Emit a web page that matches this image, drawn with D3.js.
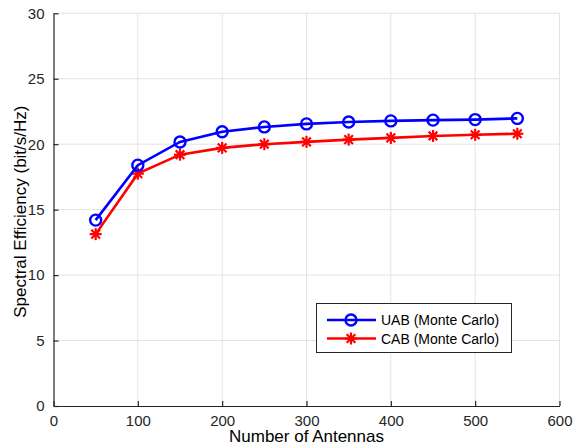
<!DOCTYPE html>
<html><head><meta charset="utf-8">
<script src="https://cdn.jsdelivr.net/npm/d3@7"></script>
<style>body{margin:0;background:#fff}svg{display:block;font-family:Arial,"Liberation Sans",sans-serif}</style>
</head><body><svg id="c" width="577" height="445"></svg>
<script>
const antennas = [50,100,150,200,250,300,350,400,450,500,550];
const uab = [14.2,18.4,20.17,20.95,21.32,21.55,21.7,21.78,21.84,21.88,21.97];
const cab = [13.13,17.75,19.2,19.72,20.0,20.18,20.35,20.48,20.63,20.72,20.8];
const xTicks = [0,100,200,300,400,500,600];
const yTicks = [0,5,10,15,20,25,30];
const seriesNames = ["UAB (Monte Carlo)","CAB (Monte Carlo)"];

const svg = d3.select("#c");
const L=53.5, R=559.5, T=13.3, B=406;
const x = d3.scaleLinear().domain([0,600]).range([L,R]);
const y = d3.scaleLinear().domain([0,30]).range([B,T]);
const txt="#262626";

// grid
svg.append("g").selectAll("line").data(xTicks.slice(1)).join("line")
  .attr("x1",d=>x(d)).attr("x2",d=>x(d)).attr("y1",T).attr("y2",B)
  .attr("stroke","#e3e3e3").attr("stroke-width",1);
svg.append("g").selectAll("line").data(yTicks.slice(1)).join("line")
  .attr("y1",d=>y(d)).attr("y2",d=>y(d)).attr("x1",L).attr("x2",R)
  .attr("stroke","#e3e3e3").attr("stroke-width",1);

// axes
const xa = svg.append("g").attr("transform",`translate(0,${B})`)
  .call(d3.axisBottom(x).tickValues(xTicks).tickSizeInner(-5).tickSizeOuter(0).tickPadding(9));
const ya = svg.append("g").attr("transform",`translate(${L},0)`)
  .call(d3.axisLeft(y).tickValues(yTicks).tickSizeInner(-5).tickSizeOuter(0).tickPadding(9));
[xa,ya].forEach(a=>{
  a.select(".domain").attr("stroke",txt).attr("stroke-width",1.2);
  a.selectAll(".tick line").attr("stroke",txt).attr("stroke-width",1.2);
  a.selectAll("text").attr("fill",txt).style("font-size","15px").style("font-family","Arial, 'Liberation Sans', sans-serif");
});

// labels
svg.append("text").attr("x",(L+R)/2).attr("y",442).attr("text-anchor","middle")
  .attr("fill","#000").style("font-size","17px").text("Number of Antennas");
svg.append("text").attr("transform",`translate(26,${(T+B)/2+2}) rotate(-90)`).attr("text-anchor","middle")
  .attr("fill","#000").style("font-size","17px").text("Spectral Efficiency (bit/s/Hz)");

const line = d3.line().x((d,i)=>x(antennas[i])).y(d=>y(d));
function asterisk(g, cx, cy, r, color){
  const p=g.append("g").attr("stroke",color).attr("stroke-width",2.2);
  p.append("line").attr("x1",cx-r).attr("x2",cx+r).attr("y1",cy).attr("y2",cy);
  p.append("line").attr("x1",cx).attr("x2",cx).attr("y1",cy-r).attr("y2",cy+r);
  const q=r*0.72;
  p.append("line").attr("x1",cx-q).attr("x2",cx+q).attr("y1",cy-q).attr("y2",cy+q);
  p.append("line").attr("x1",cx-q).attr("x2",cx+q).attr("y1",cy+q).attr("y2",cy-q);
}
// CAB
svg.append("path").datum(cab).attr("d",line).attr("fill","none").attr("stroke","#ff0000").attr("stroke-width",2.6);
const cg=svg.append("g");
cab.forEach((v,i)=>asterisk(cg,x(antennas[i]),y(v),6,"#ff0000"));
// UAB
svg.append("path").datum(uab).attr("d",line).attr("fill","none").attr("stroke","#0000ff").attr("stroke-width",2.6);
svg.append("g").selectAll("circle").data(uab).join("circle")
  .attr("cx",(d,i)=>x(antennas[i])).attr("cy",d=>y(d)).attr("r",5.5)
  .attr("fill","none").attr("stroke","#0000ff").attr("stroke-width",2.4);

// legend
const lg=svg.append("g");
lg.append("rect").attr("x",316.5).attr("y",303.5).attr("width",195).attr("height",49)
  .attr("fill","#fff").attr("stroke",txt).attr("stroke-width",1);
const colors=["#0000ff","#ff0000"], rows=[320,338.5];
seriesNames.forEach((n,i)=>{
  lg.append("line").attr("x1",327).attr("x2",376).attr("y1",rows[i]).attr("y2",rows[i])
    .attr("stroke",colors[i]).attr("stroke-width",2.6);
  if(i===0) lg.append("circle").attr("cx",351).attr("cy",rows[i]).attr("r",5.5).attr("fill","none").attr("stroke",colors[i]).attr("stroke-width",2.4);
  else asterisk(lg,351,rows[i],6,colors[i]);
  lg.append("text").attr("x",381).attr("y",rows[i]+5).attr("fill","#000").style("font-size","14px").text(n);
});
</script></body></html>
